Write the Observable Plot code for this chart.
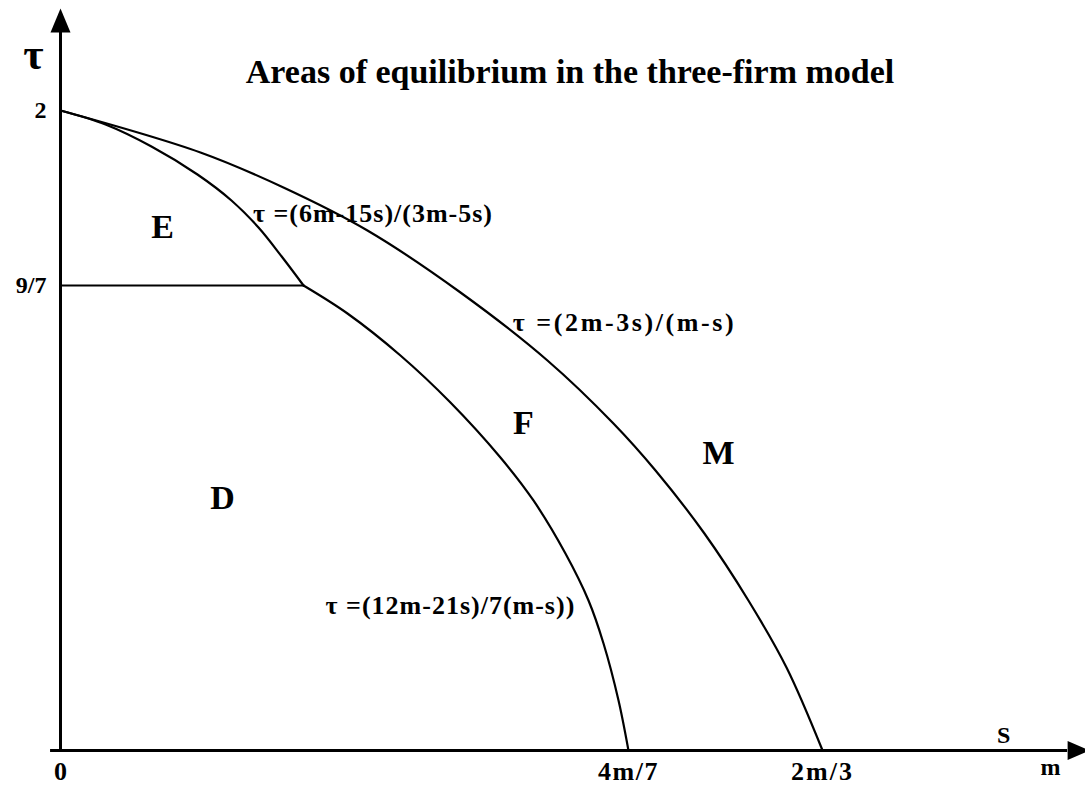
<!DOCTYPE html>
<html><head><meta charset="utf-8">
<script src="https://cdn.jsdelivr.net/npm/d3@7"></script>
<script src="https://cdn.jsdelivr.net/npm/@observablehq/plot@0.6"></script>
<style>html,body{margin:0;padding:0;background:#fff;} #chart svg{display:block;}</style>
</head><body><div id="chart"></div>
<script>
// ---- data (s/m on x, tau on y; the sketch is not drawn to scale) ----
const titleText = "Areas of equilibrium in the three-firm model";

const xTickValues = [0, 4/7, 2/3];
const xTickLabels = ["0", "4m/7", "2m/3"];
const yTickValues = [2, 9/7];
const yTickLabels = ["2", "9/7"];

// upper boundary  tau = (2m-3s)/(m-s)
const outerS = [0, 0.1408, 0.2243, 0.3088, 0.4024, 0.4899, 0.5563, 0.5847, 0.6087, 0.6303, 0.6490, 0.6667];
const outerT = [2, 1.8286, 1.6857, 1.5102, 1.2664, 1.0784, 0.9042, 0.7742, 0.6000, 0.4148, 0.2295, 0];
// E / F boundary  tau = (6m-15s)/(3m-5s)
const efS = [0, 0.0453, 0.0915, 0.1378, 0.1720, 0.1992, 0.2233, 0.2445];
const efT = [2, 1.9429, 1.8531, 1.7388, 1.6327, 1.5224, 1.4000, 9/7];
// D / F boundary  tau = (12m-21s)/7(m-s)
const dfS = [0.2445, 0.2887, 0.3420, 0.3923, 0.4426, 0.4758, 0.5080, 0.5312, 0.5463, 0.5614, 0.5714];
const dfT = [9/7, 1.2083, 1.0922, 0.9622, 0.8101, 0.6913, 0.5447, 0.4148, 0.2959, 0.1383, 0];
// D / E boundary  tau = 9/7
const deS = [0, 0.2445];
const deT = [9/7, 9/7];

const regionNames = ["E", "D", "F", "M"];
const regionS = [0.1026, 0.163, 0.4658, 0.6156];
const regionT = [1.5225, 0.6968, 0.9042, 0.8212];

const formulaTexts = ["τ =(6m-15s)/(3m-5s)", "τ =(2m-3s)/(m-s)", "τ =(12m-21s)/7(m-s))"];
const formulaS = [0.3144, 0.5674, 0.3923];
const formulaT = [1.5796, 1.1834, 0.4009];

const yAxisName = "τ", yAxisNameS = -0.0272, yAxisNameT = 2.2286;
const xAxisNames = ["S", "m"];
const xAxisNameS = [0.7556, 0.7786];
const xAxisNameT = [0.0415, -0.047];

const xAxisFrom = -0.01, xAxisTo = 0.787, xArrowTip = 0.7978;
const yAxisTo = 2.32, yArrowTip = 2.4163;

// ---- build ----
const serif = "'Liberation Serif', 'Times New Roman', Times, serif";
const toRows = (S, T) => S.map((s, i) => ({s, t: T[i]}));
const xLab = new Map(xTickValues.map((v, i) => [v, xTickLabels[i]]));
const yLab = new Map(yTickValues.map((v, i) => [v, yTickLabels[i]]));

const arrowUp = {draw(ctx) { ctx.moveTo(0, 0); ctx.lineTo(10, 24); ctx.lineTo(-10, 24); ctx.closePath(); }};
const arrowRight = {draw(ctx) { ctx.moveTo(0, 0); ctx.lineTo(-22, -9.5); ctx.lineTo(-22, 9.5); ctx.closePath(); }};

const curveStyle = {x: "s", y: "t", stroke: "black", strokeWidth: 2.2, curve: "catmull-rom"};
const bold = {fontWeight: "bold", fontFamily: serif, fill: "black"};

const chart = Plot.plot({
  width: 1085,
  height: 785,
  marginLeft: 60,
  marginBottom: 35,
  marginTop: 0,
  marginRight: 0,
  style: {background: "white", color: "black", fontFamily: serif, overflow: "hidden"},
  x: {type: "linear", domain: [0, 4/7, 2/3], range: [60, 628, 822]},
  y: {type: "linear", domain: [0, 9/7, 2], range: [750, 285, 110]},
  marks: [
    Plot.ruleY([0], {x1: xAxisFrom, x2: xAxisTo, stroke: "black", strokeWidth: 3}),
    Plot.ruleX([0], {y1: 0, y2: yAxisTo, stroke: "black", strokeWidth: 3}),
    Plot.dot([{s: 0, t: yArrowTip}], {x: "s", y: "t", symbol: arrowUp, fill: "black", stroke: "none"}),
    Plot.dot([{s: xArrowTip, t: 0}], {x: "s", y: "t", symbol: arrowRight, fill: "black", stroke: "none"}),
    Plot.line(toRows(outerS, outerT), curveStyle),
    Plot.line(toRows(efS, efT), curveStyle),
    Plot.line(toRows(dfS, dfT), curveStyle),
    Plot.line(toRows(deS, deT), {x: "s", y: "t", stroke: "black", strokeWidth: 2.2}),
    Plot.axisX({ticks: xTickValues, tickFormat: d => xLab.get(d), tickSize: 0, tickPadding: 11,
      fontSize: 26, ...bold, label: null}),
    Plot.axisY({ticks: yTickValues, tickFormat: d => yLab.get(d), tickSize: 0, tickPadding: 14,
      fontSize: 24, ...bold, label: null}),
    Plot.text(regionNames, {x: (d, i) => regionS[i], y: (d, i) => regionT[i], text: d => d,
      fontSize: 34, ...bold}),
    Plot.text(formulaTexts, {x: (d, i) => formulaS[i], y: (d, i) => formulaT[i], text: d => d,
      fontSize: 26, ...bold}),
    Plot.text([yAxisName], {x: () => yAxisNameS, y: () => yAxisNameT, text: d => d, fontSize: 44, ...bold}),
    Plot.text(xAxisNames, {x: (d, i) => xAxisNameS[i], y: (d, i) => xAxisNameT[i], text: d => d,
      fontSize: 24, ...bold}),
    Plot.text([titleText], {frameAnchor: "top", lineAnchor: "top", dy: 58, dx: -3, text: d => d,
      fontSize: 34, ...bold})
  ]
});

// letter spacing of the formula and tick labels, as in the reference lettering
const spacing = new Map([[formulaTexts[0], "1px"], [formulaTexts[1], "2.6px"], [formulaTexts[2], "1px"],
  [xTickLabels[1], "1.5px"], [xTickLabels[2], "2px"]]);
chart.querySelectorAll("text").forEach(t => {
  const ls = spacing.get(t.textContent);
  if (ls) t.setAttribute("letter-spacing", ls);
});
document.getElementById("chart").appendChild(chart);
</script>
</body></html>
